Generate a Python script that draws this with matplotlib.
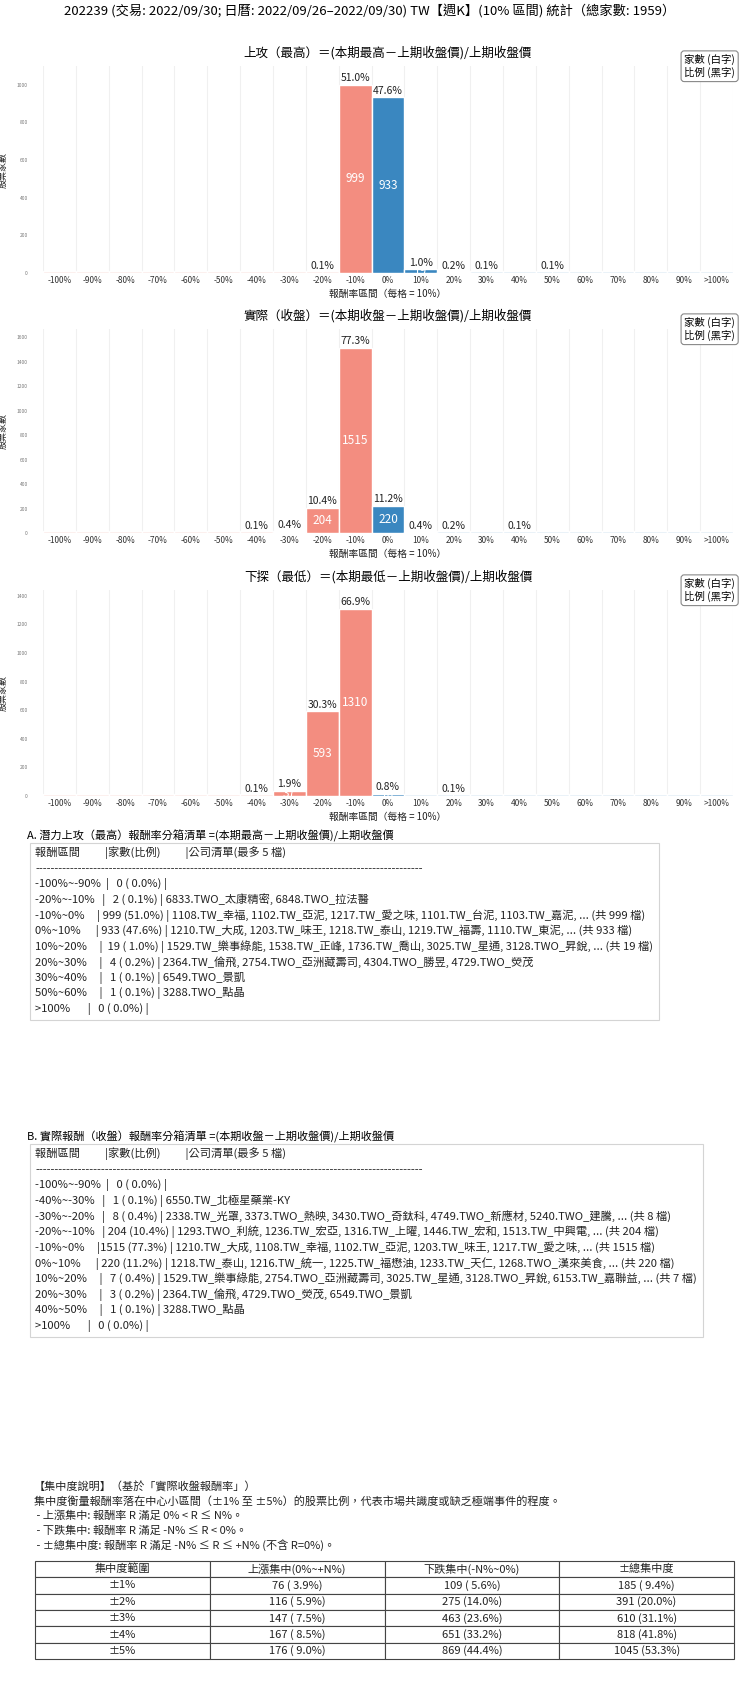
import matplotlib
matplotlib.use('Agg')
import matplotlib.pyplot as plt
from matplotlib.patches import Rectangle
from matplotlib.ticker import MultipleLocator
import numpy as np

plt.rcParams['font.family'] = ['Noto Sans CJK TC', 'DejaVu Sans']

W, H = 740, 1691
TOTAL = 1959

# ---------------- data ----------------
bin_labels = ['-100%', '-90%', '-80%', '-70%', '-60%', '-50%', '-40%', '-30%', '-20%', '-10%',
              '0%', '10%', '20%', '30%', '40%', '50%', '60%', '70%', '80%', '90%', '>100%']
range_labels = ['-100%~-90%', '-90%~-80%', '-80%~-70%', '-70%~-60%', '-60%~-50%', '-50%~-40%',
                '-40%~-30%', '-30%~-20%', '-20%~-10%', '-10%~0%', '0%~10%', '10%~20%',
                '20%~30%', '30%~40%', '40%~50%', '50%~60%', '60%~70%', '70%~80%', '80%~90%',
                '90%~100%', '>100%']

high_counts = [0, 0, 0, 0, 0, 0, 0, 0, 2, 999, 933, 19, 4, 1, 0, 1, 0, 0, 0, 0, 0]
close_counts = [0, 0, 0, 0, 0, 0, 1, 8, 204, 1515, 220, 7, 3, 0, 1, 0, 0, 0, 0, 0, 0]
low_counts = [0, 0, 0, 0, 0, 0, 2, 37, 593, 1310, 16, 0, 1, 0, 0, 0, 0, 0, 0, 0, 0]

high_names = {
    8: ['6833.TWO_太康精密', '6848.TWO_拉法醫'],
    9: ['1108.TW_幸福', '1102.TW_亞泥', '1217.TW_愛之味', '1101.TW_台泥', '1103.TW_嘉泥'],
    10: ['1210.TW_大成', '1203.TW_味王', '1218.TW_泰山', '1219.TW_福壽', '1110.TW_東泥'],
    11: ['1529.TW_樂事綠能', '1538.TW_正峰', '1736.TW_喬山', '3025.TW_星通', '3128.TWO_昇銳'],
    12: ['2364.TW_倫飛', '2754.TWO_亞洲藏壽司', '4304.TWO_勝昱', '4729.TWO_熒茂'],
    13: ['6549.TWO_景凱'],
    15: ['3288.TWO_點晶'],
}
close_names = {
    6: ['6550.TW_北極星藥業-KY'],
    7: ['2338.TW_光罩', '3373.TWO_熱映', '3430.TWO_奇鈦科', '4749.TWO_新應材', '5240.TWO_建騰'],
    8: ['1293.TWO_利統', '1236.TW_宏亞', '1316.TW_上曜', '1446.TW_宏和', '1513.TW_中興電'],
    9: ['1210.TW_大成', '1108.TW_幸福', '1102.TW_亞泥', '1203.TW_味王', '1217.TW_愛之味'],
    10: ['1218.TW_泰山', '1216.TW_統一', '1225.TW_福懋油', '1233.TW_天仁', '1268.TWO_漢來美食'],
    11: ['1529.TW_樂事綠能', '2754.TWO_亞洲藏壽司', '3025.TW_星通', '3128.TWO_昇銳', '6153.TW_嘉聯益'],
    12: ['2364.TW_倫飛', '4729.TWO_熒茂', '6549.TWO_景凱'],
    14: ['3288.TWO_點晶'],
}

conc_labels = ['±1%', '±2%', '±3%', '±4%', '±5%']
conc_up = [76, 116, 147, 167, 176]
conc_down = [109, 275, 463, 651, 869]
conc_total = [185, 391, 610, 818, 1045]
conc_header = ['集中度範圍', '上漲集中(0%~+N%)', '下跌集中(-N%~0%)', '±總集中度']

main_title = '202239 (交易: 2022/09/30; 日曆: 2022/09/26–2022/09/30) TW【週K】(10% 區間) 統計（總家數: 1959）'
titles = ['上攻（最高）＝(本期最高－上期收盤價)/上期收盤價',
          '實際（收盤）＝(本期收盤－上期收盤價)/上期收盤價',
          '下探（最低）＝(本期最低－上期收盤價)/上期收盤價']

# ---------------- style ----------------
NEG_C, POS_C = '#f38d80', '#3a87c0'
NEG_L, POS_L = '#fbe2de', '#d6e6f3'

fig = plt.figure(figsize=(W / 100, H / 100), dpi=100)


def fx(x):
    return x / W


def fy(y):
    return 1 - y / H


def add_axes_px(x0, x1, y0, y1):
    return fig.add_axes([fx(x0), fy(y1), fx(x1 - x0), (y1 - y0) / H])


fig.text(0.5, fy(11), main_title, ha='center', va='center', fontsize=9.5)

axes_px = [(66, 273), (329, 533), (590, 796)]
for (top, bot), counts, title in zip(axes_px, [high_counts, close_counts, low_counts], titles):
    ax = add_axes_px(43, 733, top, bot)
    x = np.arange(len(counts))
    ymax = max(counts) * 1.1
    is_neg = x < 10
    ax.bar(x, np.full(len(x), ymax * 0.009), width=1,
           color=[NEG_L if n else POS_L for n in is_neg], edgecolor='white', linewidth=1, zorder=2)
    ax.bar(x, counts, width=1, color=[NEG_C if n else POS_C for n in is_neg],
           edgecolor='white', linewidth=1, zorder=3)
    for i, c in enumerate(counts):
        if c > 0:
            ax.text(i, c / 2, str(c), ha='center', va='center', color='white', fontsize=8.5, zorder=4)
            ax.text(i, c + ymax * 0.008, f'{c / TOTAL * 100:.1f}%', ha='center', va='bottom',
                    fontsize=7.5, color='#222', zorder=5)
    for e in np.arange(-0.5, len(x)):
        ax.axvline(e, color='#f0f0f0', lw=0.8, zorder=0)
    ax.set_xlim(-0.5, len(x) - 0.5)
    ax.set_ylim(0, ymax)
    ax.yaxis.set_major_locator(MultipleLocator(200))
    ax.set_xticks(x)
    ax.set_xticklabels(bin_labels)
    ax.tick_params(axis='x', labelsize=6, length=0, pad=2, labelcolor='#333')
    ax.tick_params(axis='y', labelsize=3.5, length=0, pad=11, labelcolor='#777')
    for s in ax.spines.values():
        s.set_visible(False)
    ax.set_xlabel('報酬率區間（每格 = 10%）', fontsize=7, labelpad=3, color='#222')
    ax.set_ylabel('股票家數', fontsize=6.5, color='#222')
    ax.yaxis.set_label_coords((8 - 43) / 690, 0.5)
    ax.set_title(title, fontsize=9, pad=7)
    ax.text(1.003, 1 + 12 / (bot - top), '家數 (白字)\n比例 (黑字)', transform=ax.transAxes,
            ha='right', va='top', fontsize=7.5, linespacing=1.25,
            bbox=dict(boxstyle='round,pad=0.3', fc='white', ec='#888888', lw=0.8), zorder=6)


def make_lines(counts, names):
    header = '報酬區間' + ' ' * 10 + '|家數(比例)' + ' ' * 10 + '|公司清單(最多 5 檔)'
    lines = [header, '-' * 100]
    for i, c in enumerate(counts):
        if c == 0 and i not in (0, len(counts) - 1):
            continue
        s = f'{range_labels[i]:<12}|{c:>4} ({c / TOTAL * 100:4.1f}%) |'
        if c > 0:
            nm = names.get(i, [])
            s += ' ' + ', '.join(nm)
            if c > 5:
                s += f', ... (共 {c} 檔)'
        lines.append(s)
    return lines


renderer = fig.canvas.get_renderer()
LIST_FS = 8.1


def draw_list(title, title_y, lines):
    fig.text(fx(27), fy(title_y), title, ha='left', va='center', fontsize=8)
    box_top = title_y + 7
    y = box_top + 10
    right = 0
    last = y
    for s in lines:
        t = fig.text(fx(35), fy(y), s, ha='left', va='center', fontsize=LIST_FS, color='#222')
        bb = t.get_window_extent(renderer)
        right = max(right, bb.x1)
        last = y
        y += 15.6
    box_bot = last + 11
    fig.patches.append(Rectangle((fx(30), fy(box_bot)), fx(right + 6 - 30), (box_bot - box_top) / H,
                                 transform=fig.transFigure, fill=False, ec='#d4d4d4', lw=0.8))


draw_list('A. 潛力上攻（最高）報酬率分箱清單 =(本期最高－上期收盤價)/上期收盤價', 836,
          make_lines(high_counts, high_names))
draw_list('B. 實際報酬（收盤）報酬率分箱清單 =(本期收盤－上期收盤價)/上期收盤價', 1137,
          make_lines(close_counts, close_names))

expl = ['【集中度說明】（基於「實際收盤報酬率」）',
        '集中度衡量報酬率落在中心小區間（±1% 至 ±5%）的股票比例，代表市場共識度或缺乏極端事件的程度。',
        ' - 上漲集中: 報酬率 R 滿足 0% < R ≤ N%。',
        ' - 下跌集中: 報酬率 R 滿足 -N% ≤ R < 0%。',
        ' - ±總集中度: 報酬率 R 滿足 -N% ≤ R ≤ +N% (不含 R=0%)。']
for k, s in enumerate(expl):
    fig.text(fx(34), fy(1487 + 14.4 * k), s, ha='left', va='center', fontsize=8, color='#222')

axt = add_axes_px(35, 734, 1561, 1659)
axt.axis('off')
rows = [[lab, f'{u} ({u / TOTAL * 100:4.1f}%)', f'{d} ({d / TOTAL * 100:4.1f}%)',
         f'{t} ({t / TOTAL * 100:4.1f}%)'] for lab, u, d, t in zip(conc_labels, conc_up, conc_down, conc_total)]
tbl = axt.table(cellText=rows, colLabels=conc_header, cellLoc='center', bbox=[0, 0, 1, 1])
tbl.auto_set_font_size(False)
tbl.set_fontsize(8)
for cell in tbl.get_celld().values():
    cell.set_edgecolor('#444444')
    cell.set_linewidth(0.8)
    cell.get_text().set_color('#222')

fig.savefig('out.png', dpi=100)
